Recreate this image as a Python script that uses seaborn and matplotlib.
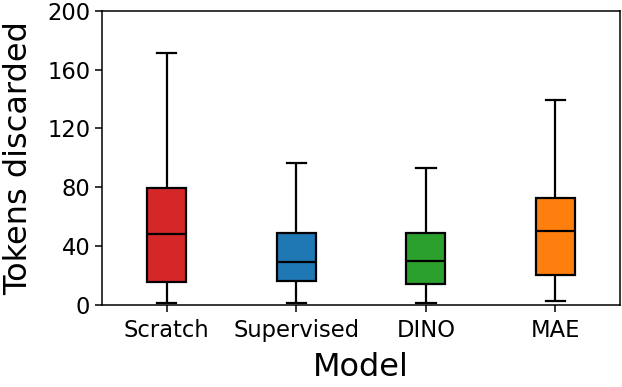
import matplotlib
matplotlib.use("Agg")
import matplotlib.pyplot as plt
import seaborn as sns
import pandas as pd

models = ["Scratch", "Supervised", "DINO", "MAE"]
# five-number summaries: min, Q1, median, Q3, max
scratch = [1, 15.6, 48, 79.4, 171.5]
supervised = [1, 16.5, 29, 48.8, 96.8]
dino = [1, 14.5, 30, 48.8, 93]
mae = [3, 20.5, 50.3, 73, 139.5]
colors = ["#d62728", "#1f77b4", "#2ca02c", "#ff7f0e"]

series = [scratch, supervised, dino, mae]
rows = []
for m, vals in zip(models, series):
    for v in vals:
        rows.append({"Model": m, "Tokens discarded": v})
df = pd.DataFrame(rows)

fig = plt.figure(figsize=(6.22, 3.87), dpi=100)
ax = fig.add_axes([0.164, 0.212, 0.833, 0.760])

sns.boxplot(data=df, x="Model", y="Tokens discarded", hue="Model",
            order=models, hue_order=models, palette=colors, legend=False,
            width=0.3, whis=(0, 100), showfliers=False, saturation=1,
            linecolor="black", linewidth=1.6, ax=ax)

ax.set_ylim(0, 200)
ax.set_yticks([0, 40, 80, 120, 160, 200])
ax.tick_params(axis="both", labelsize=16.3, width=1.1, length=5)
ax.tick_params(axis="x", pad=5)
ax.set_xlabel("Model", fontsize=23, labelpad=7)
ax.set_ylabel("Tokens discarded", fontsize=23, labelpad=9)
for s in ax.spines.values():
    s.set_linewidth(1.1)

fig.savefig("out.png", dpi=100)
